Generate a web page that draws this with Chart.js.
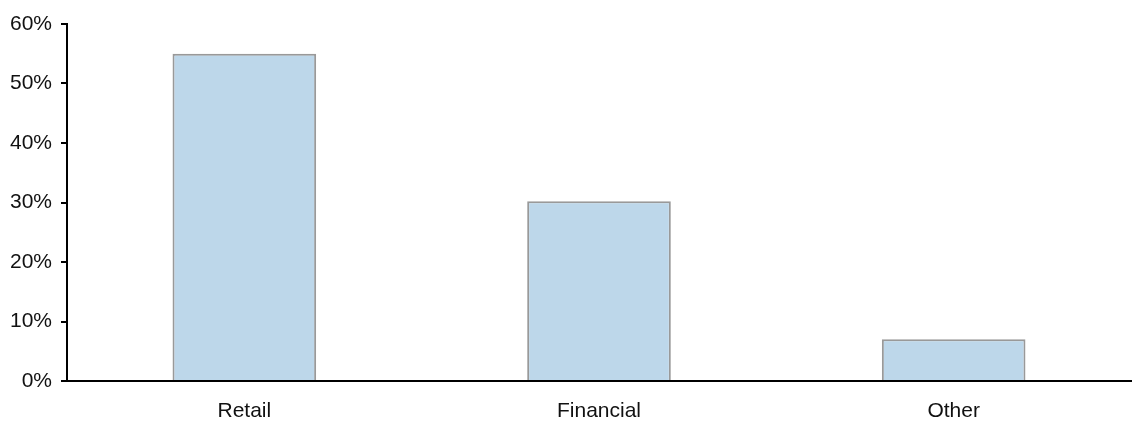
<!DOCTYPE html>
<html>
<head>
<meta charset="utf-8">
<script src="https://cdn.jsdelivr.net/npm/chart.js@4.4.0/dist/chart.umd.min.js"></script>
<style>
  html, body { margin: 0; padding: 0; background: #fff; }
  #wrap { width: 1132px; height: 421px; position: relative; }
</style>
</head>
<body>
<div id="wrap"><canvas id="chart"></canvas></div>
<script>
// share by segment, in percent
const categories = ['Retail', 'Financial', 'Other']
const shares = [55, 30.2, 7]
const yTicks = [0, 10, 20, 30, 40, 50, 60]

const ctx = document.getElementById('chart').getContext('2d')
const font = { family: 'Liberation Sans, Arial, sans-serif', size: 21 }

new Chart(ctx, {
    type: 'bar',
    data: {
        labels: categories,
        datasets: [{
            data: shares,
            backgroundColor: '#bdd7ea',
            borderColor: '#999999',
            borderWidth: 2,
            categoryPercentage: 1,
            barPercentage: 0.405
        }]
    },
    options: {
        responsive: true,
        maintainAspectRatio: false,
        animation: false,
        layout: { padding: { top: 24, right: 1, left: 0, bottom: 0 } },
        plugins: { legend: { display: false }, tooltip: { enabled: false } },
        scales: {
            x: {
                grid: { display: false, drawTicks: false },
                border: { color: '#000', width: 2 },
                ticks: { color: '#111', font, padding: 18 },
                afterFit: (s) => { s.height = 40 }
            },
            y: {
                min: 0,
                max: 60,
                afterBuildTicks: (s) => { s.ticks = yTicks.map(v => ({ value: v })) },
                grid: { drawOnChartArea: false, drawTicks: true, tickLength: 6, color: '#000', lineWidth: 2 },
                border: { color: '#000', width: 2 },
                ticks: { color: '#111', font, padding: 9, callback: v => v + '%' },
                afterFit: (s) => { s.width = 67 }
            }
        }
    }
})
</script>
</body>
</html>
